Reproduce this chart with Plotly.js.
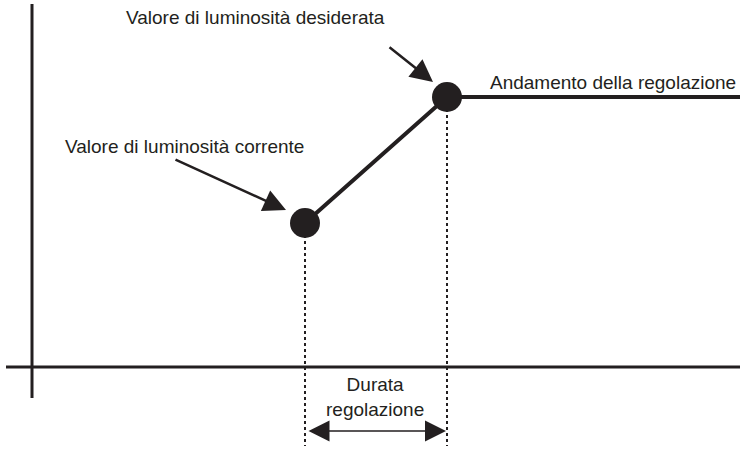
<!DOCTYPE html>
<html>
<head>
<meta charset="utf-8">
<script src="https://cdn.plot.ly/plotly-3.0.1.min.js"></script>
<style>body{margin:0;background:#fff}#plot{width:740px;height:454px}</style>
</head>
<body>
<div id="plot"></div>
<script>
// diagram units: origin where the two axes cross
var curveX = [273, 415, 708];
var curveY = [144, 270, 270];
var pointX = [273, 415];
var pointY = [144, 270];
var axisTop = 363, axisBottom = -31;
var axisLeft = -26, axisRight = 708;
var dropBottom = -79;
var spanY = -64;

var ink = "#231f20";
var font = {family: "Liberation Sans, Arial, sans-serif", size: 19, color: ink};

var data = [
  {x: [0, 0], y: [axisBottom, axisTop], mode: "lines", line: {color: ink, width: 3}},
  {x: [axisLeft, axisRight], y: [0, 0], mode: "lines", line: {color: ink, width: 3}},
  {x: [pointX[0], pointX[0]], y: [pointY[0], dropBottom], mode: "lines", line: {color: ink, width: 2, dash: "dot"}},
  {x: [pointX[1], pointX[1]], y: [pointY[1], dropBottom], mode: "lines", line: {color: ink, width: 2, dash: "dot"}},
  {x: curveX, y: curveY, mode: "lines", line: {color: ink, width: 4}},
  {x: pointX, y: pointY, mode: "markers", marker: {color: ink, size: 30}}
];

var layout = {
  width: 740, height: 454,
  margin: {l: 0, r: 0, t: 0, b: 0},
  showlegend: false,
  paper_bgcolor: "#fff", plot_bgcolor: "#fff",
  xaxis: {range: [-32, 708], visible: false, fixedrange: true},
  yaxis: {range: [-87, 367], visible: false, fixedrange: true},
  font: font,
  annotations: [
    {x: 223, y: 350, text: "Valore di luminosità desiderata", showarrow: false, font: font},
    {x: 152, y: 221, text: "Valore di luminosità corrente", showarrow: false, font: font},
    {x: 581, y: 285, text: "Andamento della regolazione", showarrow: false, font: font},
    {x: 343, y: -30, text: "Durata<br>regolazione", showarrow: false, font: font},
    {x: 254, y: 157, ax: 142, ay: 208, axref: "x", ayref: "y", text: "", showarrow: true,
     arrowhead: 2, arrowsize: 1.8, arrowwidth: 2.5, arrowcolor: ink},
    {x: 401, y: 285, ax: 356, ay: 321, axref: "x", ayref: "y", text: "", showarrow: true,
     arrowhead: 2, arrowsize: 1.8, arrowwidth: 2.5, arrowcolor: ink},
    {x: 414, y: spanY, ax: 275, ay: spanY, axref: "x", ayref: "y", text: "", showarrow: true,
     arrowhead: 2, startarrowhead: 2, arrowside: "end+start", arrowsize: 2.8, startarrowsize: 2.8,
     arrowwidth: 1.5, arrowcolor: ink}
  ]
};

Plotly.newPlot("plot", data, layout, {displayModeBar: false, staticPlot: true});
</script>
</body>
</html>
